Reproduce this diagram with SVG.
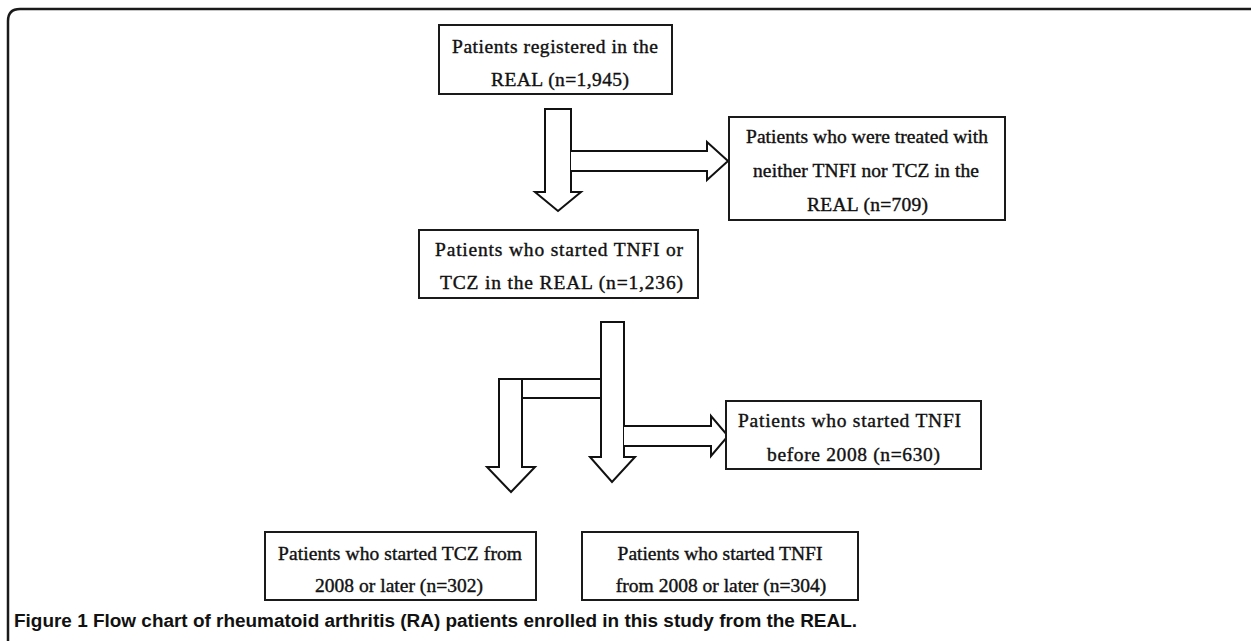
<svg xmlns="http://www.w3.org/2000/svg" width="1251" height="641" viewBox="0 0 1251 641">
<style>
.box{fill:#fff;stroke:#1a1a1a;stroke-width:2}
.arr{fill:#fff;stroke:#111;stroke-width:2;stroke-linejoin:miter}
.ln{fill:none;stroke:#111;stroke-width:2}
.t{font-family:"Liberation Serif","Times New Roman",serif;font-size:19.5px;fill:#111;stroke:#111;stroke-width:0.4}
.cap{font-family:"Liberation Sans",Arial,sans-serif;font-size:18px;font-weight:bold;fill:#111}
</style>
<rect width="1251" height="641" fill="#fff"/>
<path d="M8 641 L8 21 Q8 9 20 9 L1251 9" fill="none" stroke="#1a1a1a" stroke-width="2.5"/>

<g id="connectors">
  <path class="arr" d="M545 109 L571 109 L571 192 L581 192 L558 211 L535 192 L545 192 Z"/>
  <path class="arr" d="M571 151 L707 151 L707 142 L728 161 L707 180 L707 171 L571 171"/>
  <path class="arr" d="M601 322 L624 322 L624 457 L635 457 L612 482 L590 457 L601 457 Z"/>
  <path class="arr" d="M499 379 L522 379 L522 467 L535 467 L511 492 L487 467 L499 467 Z"/>
  <path class="ln" d="M522 379 L601 379 M522 398 L601 398"/>
  <path class="arr" d="M624 426 L711 426 L711 416 L728 436 L711 456 L711 446 L624 446"/>
</g>

<g id="n1">
  <rect class="box" x="439" y="25" width="233" height="69"/>
  <text class="t" x="452" y="53" textLength="206" lengthAdjust="spacing">Patients registered in the</text>
  <text class="t" x="491" y="86" textLength="138" lengthAdjust="spacing">REAL (n=1,945)</text>
</g>

<g id="n2">
  <rect class="box" x="729" y="117" width="276" height="103"/>
  <text class="t" x="746" y="143" textLength="242" lengthAdjust="spacing">Patients who were treated with</text>
  <text class="t" x="753" y="177" textLength="226" lengthAdjust="spacing">neither TNFI nor TCZ in the</text>
  <text class="t" x="807" y="211" textLength="121" lengthAdjust="spacing">REAL (n=709)</text>
</g>

<g id="n3">
  <rect class="box" x="419" y="230" width="279" height="68"/>
  <text class="t" x="435" y="256" textLength="248" lengthAdjust="spacing">Patients who started TNFI or</text>
  <text class="t" x="440" y="289" textLength="243" lengthAdjust="spacing">TCZ in the REAL (n=1,236)</text>
</g>

<g id="n4">
  <rect class="box" x="726" y="401" width="255" height="68"/>
  <text class="t" x="738" y="427" textLength="223" lengthAdjust="spacing">Patients who started TNFI</text>
  <text class="t" x="767" y="461" textLength="173" lengthAdjust="spacing">before 2008 (n=630)</text>
</g>

<g id="n5">
  <rect class="box" x="265" y="532" width="271" height="68"/>
  <text class="t" x="278" y="560" textLength="244" lengthAdjust="spacing">Patients who started TCZ from</text>
  <text class="t" x="315" y="592" textLength="168" lengthAdjust="spacing">2008 or later (n=302)</text>
</g>

<g id="n6">
  <rect class="box" x="582" y="532" width="276" height="68"/>
  <text class="t" x="720" y="560" text-anchor="middle">Patients who started TNFI</text>
  <text class="t" x="721" y="592" text-anchor="middle">from 2008 or later (n=304)</text>
</g>

<text class="cap" x="14" y="627" textLength="843" lengthAdjust="spacingAndGlyphs">Figure 1 Flow chart of rheumatoid arthritis (RA) patients enrolled in this study from the REAL.</text>
</svg>
